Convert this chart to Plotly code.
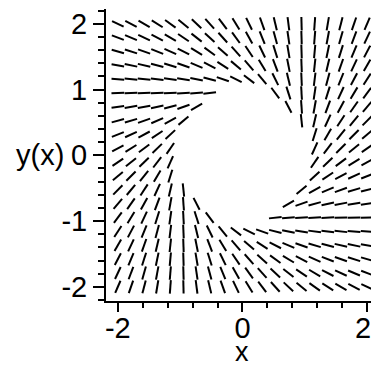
import math
import plotly.graph_objects as go

# Direction field of the ODE  dy/dx = (x*y + sqrt(x^2 + y^2 - 1)) / (x^2 - 1)
# (tangent lines to the unit circle; undefined inside the circle)
x_grid = [-2.0, -1.7895, -1.5789, -1.3684, -1.1579, -0.9474, -0.7368, -0.5263,
          -0.3158, -0.1053, 0.1053, 0.3158, 0.5263, 0.7368, 0.9474, 1.1579,
          1.3684, 1.5789, 1.7895, 2.0]
y_grid = [-2.0, -1.7895, -1.5789, -1.3684, -1.1579, -0.9474, -0.7368, -0.5263,
          -0.3158, -0.1053, 0.1053, 0.3158, 0.5263, 0.7368, 0.9474, 1.1579,
          1.3684, 1.5789, 1.7895, 2.0]

x_tick_vals = [-2, 0, 2]
x_tick_text = ["-2", "0", "2\u00a0"]
y_tick_vals = [-2, -1, 0, 1, 2]
y_tick_text = ["-2", "-1", "0", "1", "2"]


def slope(x, y):
    r2 = x * x + y * y - 1.0
    if r2 < 0:
        return None
    return (x * y + math.sqrt(r2)) / (x * x - 1.0)


spacing = (x_grid[-1] - x_grid[0]) / (len(x_grid) - 1)
seg = 0.97 * spacing

xs, ys = [], []
for x in x_grid:
    for y in y_grid:
        p = slope(x, y)
        if p is None:
            continue
        n = math.hypot(1.0, p)
        dx = 0.5 * seg / n
        dy = 0.5 * seg * p / n
        xs += [x - dx, x + dx, None]
        ys += [y - dy, y + dy, None]

FONT = "Liberation Sans Narrow, Liberation Sans, Arial, sans-serif"
FS = 29

fig = go.Figure()
fig.add_trace(go.Scatter(x=xs, y=ys, mode="lines",
                         line=dict(color="black", width=2),
                         hoverinfo="skip", showlegend=False))

fig.update_layout(
    width=371, height=360,
    margin=dict(l=98, r=0, t=0, b=67),
    paper_bgcolor="white", plot_bgcolor="white",
    font=dict(family=FONT, size=FS, color="black"),
    showlegend=False,
    xaxis=dict(range=[-2.19, 2.094], showgrid=False, zeroline=False,
               showline=True, linecolor="black", linewidth=2,
               ticks="outside", ticklen=9, tickwidth=1.5, tickcolor="black",
               tickvals=x_tick_vals, ticktext=x_tick_text,
               ticklabeloverflow="allow", ticklabelstandoff=-9,
               tickfont=dict(family=FONT, size=FS, color="black"),
               minor=dict(dtick=0.4, tick0=-2, ticks="outside", ticklen=5,
                          tickwidth=1.5, tickcolor="black", showgrid=False)),
    yaxis=dict(range=[-2.215, 2.225], showgrid=False, zeroline=False,
               showline=True, linecolor="black", linewidth=2,
               ticks="outside", ticklen=11, tickwidth=1.5, tickcolor="black",
               tickvals=y_tick_vals, ticktext=y_tick_text,
               ticklabeloverflow="allow",
               tickfont=dict(family=FONT, size=FS, color="black"),
               minor=dict(dtick=0.2, tick0=-2, ticks="outside", ticklen=6,
                          tickwidth=1.5, tickcolor="black", showgrid=False)),
    annotations=[
        dict(text="y(x)", xref="paper", yref="y", x=-0.345, y=0,
             xanchor="left", yanchor="middle", showarrow=False,
             font=dict(family=FONT, size=FS, color="black")),
        dict(text="x", xref="x", yref="paper", x=0, y=-0.2287,
             xanchor="center", yanchor="bottom", showarrow=False,
             borderpad=0,
             font=dict(family=FONT, size=27, color="black")),
    ],
)

fig.write_html("out.html")
